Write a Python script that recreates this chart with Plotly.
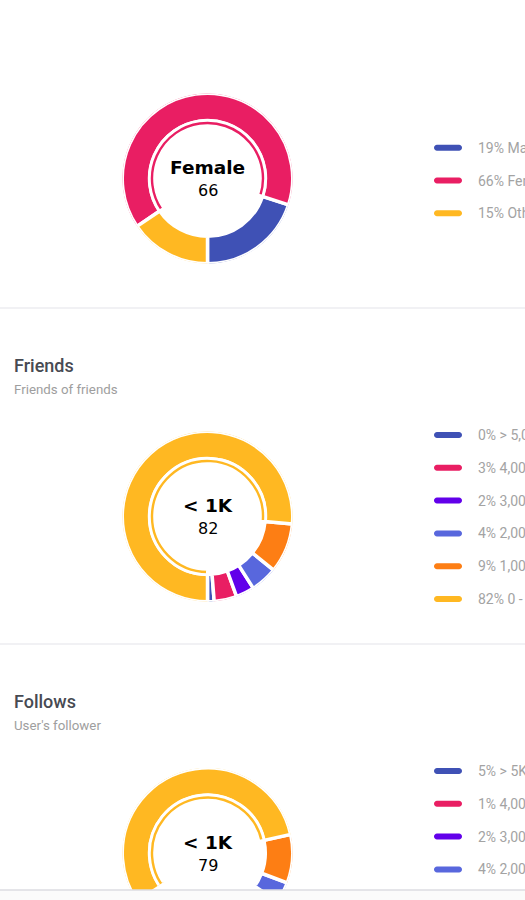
import numpy as np
import plotly.graph_objects as go

W, H = 525, 900

# ---------------- data ----------------
gender_labels = ["Male", "Female", "Other"]
gender_pct_text = ["19%", "66%", "15%"]
gender_values = [20.0, 64.5, 15.5]          # slice sizes as drawn
gender_colors = ["#3f51b5", "#e91e63", "#ffb822"]
gender_center_label = "Female"
gender_center_value = "66"
gender_selected = 1

friends_title = "Friends"
friends_subtitle = "Friends of friends"
friends_labels = ["> 5,000", "4,000 - 4,999", "3,000 - 3,999", "2,000 - 2,999", "1,000 - 1,999", "0 - 999"]
friends_pct_text = ["0%", "3%", "2%", "4%", "9%", "82%"]
friends_values = [1.25, 4.3, 3.5, 5.1, 9.45, 76.4]   # slice sizes as drawn
friends_center_label = "< 1K"
friends_center_value = "82"
friends_selected = 5

follows_title = "Follows"
follows_subtitle = "User's follower"
follows_labels = ["> 5K", "4,000 - 4,999", "3,000 - 3,999", "2,000 - 2,999", "1,000 - 1,999", "0 - 999"]
follows_pct_text = ["5%", "1%", "2%", "4%", "9%", "79%"]
follows_values = [6.0, 3.0, 4.0, 6.3, 9.2, 71.5]     # slice sizes as drawn
follows_center_label = "< 1K"
follows_center_value = "79"
follows_selected = 5

range_colors = ["#3f51b5", "#e91e63", "#6200ea", "#5867dd", "#fd7e14", "#ffb822"]

# ---------------- style / layout constants ----------------
CX = 207.5
R_AX = 85.25          # polar radius (px)
THICK_BASE, THICK_LEN, THICK_LW = 57.75, 27.5, 3.5
THIN_BASE, THIN_LEN, THIN_LW = 52.8, 5.4, 3.0
ROW_GAP = 32.8
KEY_X, KEY_LEN, KEY_H = 434, 28, 6
TEXT_X = 475.5
VIEW_BOTTOM = 890
LEGEND_FONT = dict(family="Roboto", size=14, color="#a3a3a3")
TITLE_FONT = dict(family="Roboto", size=18, color="#474a52", weight=500)
SUB_FONT = dict(family="Roboto", size=13.3, color="#9e9e9e")
LABEL_FONT = dict(family="DejaVu Sans", size=18.5, color="#000000", weight="bold")
VALUE_FONT = dict(family="DejaVu Sans", size=16, color="#000000")

fig = go.Figure()
annotations = []
shapes = []


def px_x(x):
    return x / W


def px_y(y):
    return 1 - y / H


def pill_path():
    r = KEY_H / 2
    k = 0.5523 * r
    L = KEY_LEN
    return (f"M {r},{-r} L {L - r},{-r} "
            f"C {L - r + k},{-r} {L},{-k} {L},0 "
            f"C {L},{k} {L - r + k},{r} {L - r},{r} "
            f"L {r},{r} C {r - k},{r} 0,{k} 0,0 "
            f"C 0,{-k} {r - k},{-r} {r},{-r} Z")


def add_panel(idx, values, colors, selected, cy, legend_cy, pct_text, labels,
              center_label, center_value, sector_deg=None):
    name = "polar" if idx == 1 else f"polar{idx}"
    v = np.asarray(values, dtype=float)
    deg = v / v.sum() * 360.0
    theta = np.cumsum(deg) - deg / 2.0

    fig.add_trace(go.Barpolar(
        r=[THICK_LEN] * len(v), base=THICK_BASE, theta=theta, width=deg,
        marker=dict(color=colors, line=dict(color="white", width=THICK_LW)),
        subplot=name, hoverinfo="skip", showlegend=False))
    fig.add_trace(go.Barpolar(
        r=[THIN_LEN], base=THIN_BASE, theta=[theta[selected]], width=[deg[selected]],
        marker=dict(color=[colors[selected]], line=dict(color="white", width=THIN_LW)),
        subplot=name, hoverinfo="skip", showlegend=False))

    if sector_deg is None:
        bottom = cy + R_AX
        sector = [0, 360]
    else:
        bottom = cy + R_AX * np.sin(np.radians(sector_deg))
        sector = [-sector_deg, 180 + sector_deg]
    fig.update_layout(**{name: dict(
        domain=dict(x=[px_x(CX - R_AX), px_x(CX + R_AX)],
                    y=[max(0.0, px_y(bottom)), px_y(cy - R_AX)]),
        sector=sector,
        bgcolor="rgba(0,0,0,0)",
        barmode="overlay",
        hole=0,
        radialaxis=dict(visible=False, range=[0, R_AX]),
        angularaxis=dict(visible=False, rotation=-90, direction="counterclockwise"),
    )})

    # center text
    annotations.append(dict(x=px_x(CX), y=px_y(cy - 10.5), xref="paper", yref="paper",
                            text=f"<b>{center_label}</b>", showarrow=False,
                            xanchor="center", yanchor="middle", font=LABEL_FONT))
    annotations.append(dict(x=px_x(CX), y=px_y(cy + 12), xref="paper", yref="paper",
                            text=center_value, showarrow=False,
                            xanchor="center", yanchor="middle", font=VALUE_FONT))

    # legend (rows below the visible bottom edge are scrolled out of view)
    n = len(v)
    for i in range(n):
        ry = legend_cy + (i - (n - 1) / 2) * ROW_GAP
        if ry > VIEW_BOTTOM - 5:
            continue
        shapes.append(dict(type="path", xref="paper", yref="paper",
                           xsizemode="pixel", ysizemode="pixel",
                           xanchor=px_x(KEY_X), yanchor=px_y(ry),
                           path=pill_path(), fillcolor=colors[i],
                           line=dict(width=0)))
        annotations.append(dict(x=px_x(TEXT_X), y=px_y(ry), xref="paper", yref="paper",
                                text=f"{pct_text[i]} {labels[i]}", showarrow=False,
                                xanchor="left", yanchor="middle", font=LEGEND_FONT))


add_panel(1, gender_values, gender_colors, gender_selected, 178.5, 180.5,
          gender_pct_text, gender_labels, gender_center_label, gender_center_value)
add_panel(2, friends_values, range_colors, friends_selected, 516.5, 517,
          friends_pct_text, friends_labels, friends_center_label, friends_center_value)
add_panel(3, follows_values, range_colors, follows_selected, 853, 853,
          follows_pct_text, follows_labels, follows_center_label, follows_center_value,
          sector_deg=33.4)

# titles
for title, sub, ty in [(friends_title, friends_subtitle, 365), (follows_title, follows_subtitle, 701)]:
    annotations.append(dict(x=px_x(11.5), y=px_y(ty), xref="paper", yref="paper", text=title,
                            showarrow=False, xanchor="left", yanchor="middle", font=TITLE_FONT))
    annotations.append(dict(x=px_x(11.5), y=px_y(ty + 24), xref="paper", yref="paper", text=sub,
                            showarrow=False, xanchor="left", yanchor="middle", font=SUB_FONT))

# separators between cards
for sy in [308, 644]:
    shapes.append(dict(type="line", xref="paper", yref="paper", x0=0, x1=1,
                       y0=px_y(sy), y1=px_y(sy), line=dict(color="#ededf1", width=1.5)))
# bottom edge of the scroll area
shapes.append(dict(type="rect", xref="paper", yref="paper", x0=0, x1=1, y0=0, y1=px_y(VIEW_BOTTOM),
                   fillcolor="#fbfbfb", line=dict(width=0), layer="above"))
shapes.append(dict(type="line", xref="paper", yref="paper", x0=0, x1=1,
                   y0=px_y(VIEW_BOTTOM), y1=px_y(VIEW_BOTTOM),
                   line=dict(color="#dcdce2", width=1.5), layer="above"))

fig.update_layout(
    width=W, height=H,
    margin=dict(l=0, r=0, t=0, b=0, autoexpand=False),
    paper_bgcolor="white", plot_bgcolor="white",
    showlegend=False,
    annotations=annotations,
    shapes=shapes,
)

fig.write_html(
    "out.html",
    config={"displayModeBar": False},
    post_script="document.body.style.margin='0';document.body.style.overflow='hidden';",
)
